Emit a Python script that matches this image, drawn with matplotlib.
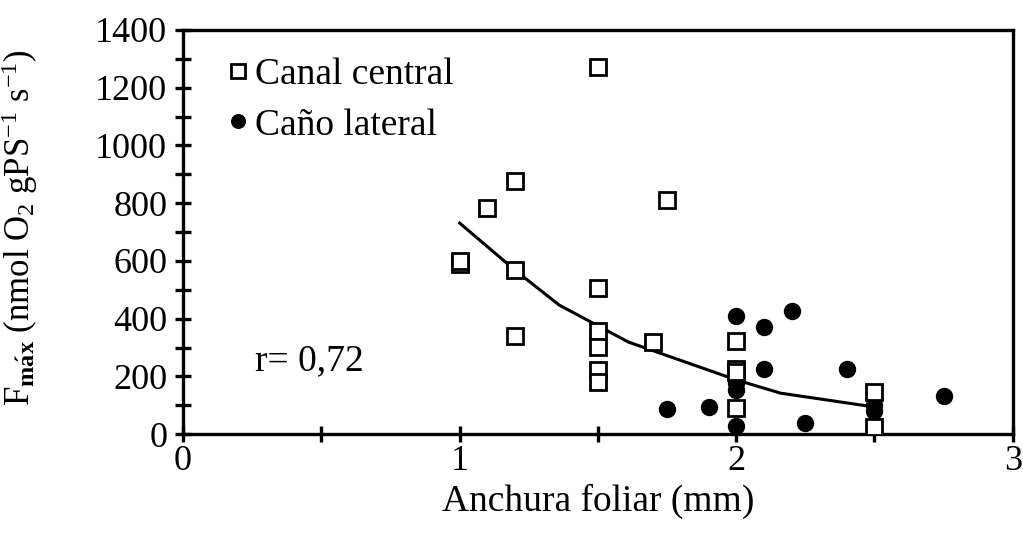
import matplotlib
matplotlib.use("Agg")
import matplotlib.pyplot as plt
from matplotlib.ticker import MultipleLocator

plt.rcParams['font.family'] = ['Liberation Serif', 'DejaVu Serif']
plt.rcParams['mathtext.fontset'] = 'custom'
plt.rcParams['mathtext.rm'] = 'Liberation Serif'
plt.rcParams['mathtext.it'] = 'Liberation Serif:italic'
plt.rcParams['mathtext.bf'] = 'Liberation Serif:bold'

# Canal central (open squares)
canal_x = [1.0, 1.0, 1.1, 1.2, 1.2, 1.2, 1.5, 1.5, 1.5, 1.5, 1.5, 1.5, 1.7, 1.75,
           2.0, 2.0, 2.0, 2.0, 2.5, 2.5]
canal_y = [590, 600, 783, 877, 568, 340, 1272, 506, 357, 301, 222, 182, 319, 811,
           322, 225, 215, 90, 145, 24]

# Caño lateral (filled circles)
cano_x = [2.0, 2.1, 2.2, 2.1, 2.4, 2.0, 2.0, 1.75, 1.9, 2.0, 2.25, 2.5, 2.5, 2.75]
cano_y = [409, 372, 426, 225, 225, 177, 152, 87, 94, 28, 38, 100, 80, 132]

# Trend line
trend_x = [1.0, 1.2, 1.36, 1.61, 2.0, 2.16, 2.5]
trend_y = [731, 568, 447, 319, 188, 142, 94]

fig = plt.figure(figsize=(10.23, 5.34), dpi=100)
ax = fig.add_axes([0.179, 0.187, 0.811, 0.757])

ax.plot(trend_x, trend_y, color='black', lw=2.2, zorder=2)
ax.plot(cano_x, cano_y, 'o', ms=11.5, mfc='black', mec='black', zorder=3,
        label='Caño lateral')
ax.plot(canal_x, canal_y, 's', ms=12, mfc='white', mec='black', mew=2, zorder=4,
        label='Canal central')

ax.set_xlim(0, 3)
ax.set_ylim(0, 1400)
ax.xaxis.set_major_locator(MultipleLocator(1))
ax.xaxis.set_minor_locator(MultipleLocator(0.5))
ax.yaxis.set_major_locator(MultipleLocator(200))
ax.yaxis.set_minor_locator(MultipleLocator(100))

for s in ax.spines.values():
    s.set_linewidth(2.4)

ax.tick_params(axis='both', which='both', direction='inout', width=2.4,
               length=12, labelsize=26, colors='black')
ax.tick_params(axis='y', which='both', length=11, pad=6)
ax.tick_params(axis='x', which='both', pad=2)

ax.set_xlabel('Anchura foliar (mm)', fontsize=27, labelpad=4)
ax.set_ylabel(r'F$_{\mathbf{m\acute{a}x}}$ (nmol O$_2$ gPS$^{\mathrm{-1}}$ s$^{\mathrm{-1}}$)',
              fontsize=25)
ax.yaxis.set_label_coords(-0.172, 0.51)

handles, labels = ax.get_legend_handles_labels()
leg = ax.legend(handles[::-1], labels[::-1], loc='upper left', frameon=False,
                fontsize=27, handlelength=0.5, handletextpad=0.2,
                labelspacing=0.42, borderaxespad=0.0, markerscale=0.85,
                bbox_to_anchor=(0.037, 0.968))

ax.text(0.26, 255, 'r= 0,72', fontsize=27, va='center', ha='left')

fig.savefig('out.png', dpi=100)
